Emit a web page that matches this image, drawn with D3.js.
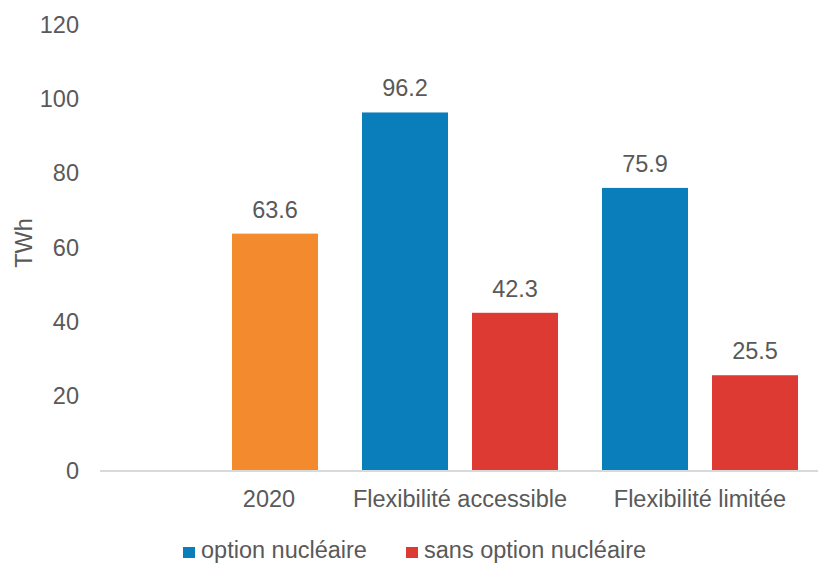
<!DOCTYPE html>
<html><head><meta charset="utf-8">
<script src="https://cdn.jsdelivr.net/npm/d3@7"></script>
<style>body{margin:0;background:#fff;} text{font-family:"Liberation Sans",Arial,sans-serif;fill:#595959;}</style>
</head><body>
<svg id="c" width="818" height="563"></svg>
<script>
const categories = ["2020", "Flexibilité accessible", "Flexibilité limitée"];
const seriesNames = ["option nucléaire", "sans option nucléaire"];
const nuclear = [null, 96.2, 75.9];
const noNuclear = [63.6, 42.3, 25.5];
const yTicks = [0, 20, 40, 60, 80, 100, 120];
const colors = {nuc: "#0a7dbb", non: "#dc3a33", base: "#f48a2e"};

const FS = "23.5px";
const svg = d3.select("#c");
const x0 = d3.scaleBand().domain(categories).range([100, 820]).paddingInner(0).paddingOuter(0);
const x1 = d3.scaleBand().domain([0, 1]).range([22, 218]).paddingInner(24/110).paddingOuter(0);
const y = d3.scaleLinear().domain([0, 120]).range([470, 24]);

// y tick labels
const yAxis = d3.axisLeft(y).tickValues(yTicks).tickSize(0).tickPadding(0);
const gy = svg.append("g").attr("transform", "translate(79,0)").call(yAxis);
gy.select(".domain").remove();
gy.selectAll("text").style("font-size", FS).attr("fill", "#595959").attr("font-family", "Liberation Sans, Arial, sans-serif").attr("dy", "0.35em");

// y title
svg.append("text").attr("transform", "translate(32," + (y(60) - 4) + ") rotate(-90)")
  .attr("text-anchor", "middle").style("font-size", FS).text("TWh");

// bars
const data = [];
categories.forEach((c, i) => {
  if (nuclear[i] != null) data.push({c, s: 0, v: nuclear[i], col: colors.nuc});
  if (noNuclear[i] != null) data.push({c, s: 1, v: noNuclear[i], col: i === 0 ? colors.base : colors.non});
});
svg.selectAll("rect.bar").data(data).join("rect").attr("class", "bar")
  .attr("x", d => x0(d.c) + x1(d.s)).attr("width", x1.bandwidth())
  .attr("y", d => y(d.v)).attr("height", d => y(0) - y(d.v)).attr("fill", d => d.col);

svg.selectAll("text.val").data(data).join("text").attr("class", "val")
  .attr("x", d => x0(d.c) + x1(d.s) + x1.bandwidth() / 2)
  .attr("y", d => y(d.v) - 16).attr("text-anchor", "middle").style("font-size", FS)
  .text(d => d.v.toFixed(1));

// baseline
svg.append("line").attr("x1", 100).attr("x2", 820).attr("y1", y(0) + 1).attr("y2", y(0) + 1)
  .attr("stroke", "#d9d9d9").attr("stroke-width", 2);

// x labels
svg.selectAll("text.cat").data(categories).join("text").attr("class", "cat")
  .attr("x", (d, i) => i === 0 ? x0(d) + x1(1) + x1.bandwidth() / 2 - 6 : x0(d) + x0.bandwidth() / 2)
  .attr("y", 507).attr("text-anchor", "middle").style("font-size", FS).text(d => d);

// legend
const legX = [183, 406];
const lg = svg.selectAll("g.leg").data(seriesNames).join("g").attr("class", "leg")
  .attr("transform", (d, i) => "translate(" + legX[i] + ",547)");
lg.append("rect").attr("width", 12).attr("height", 11).attr("fill", (d, i) => i === 0 ? colors.nuc : colors.non);
lg.append("text").attr("x", 18).attr("y", 11).style("font-size", FS).text(d => d);
</script>
</body></html>
